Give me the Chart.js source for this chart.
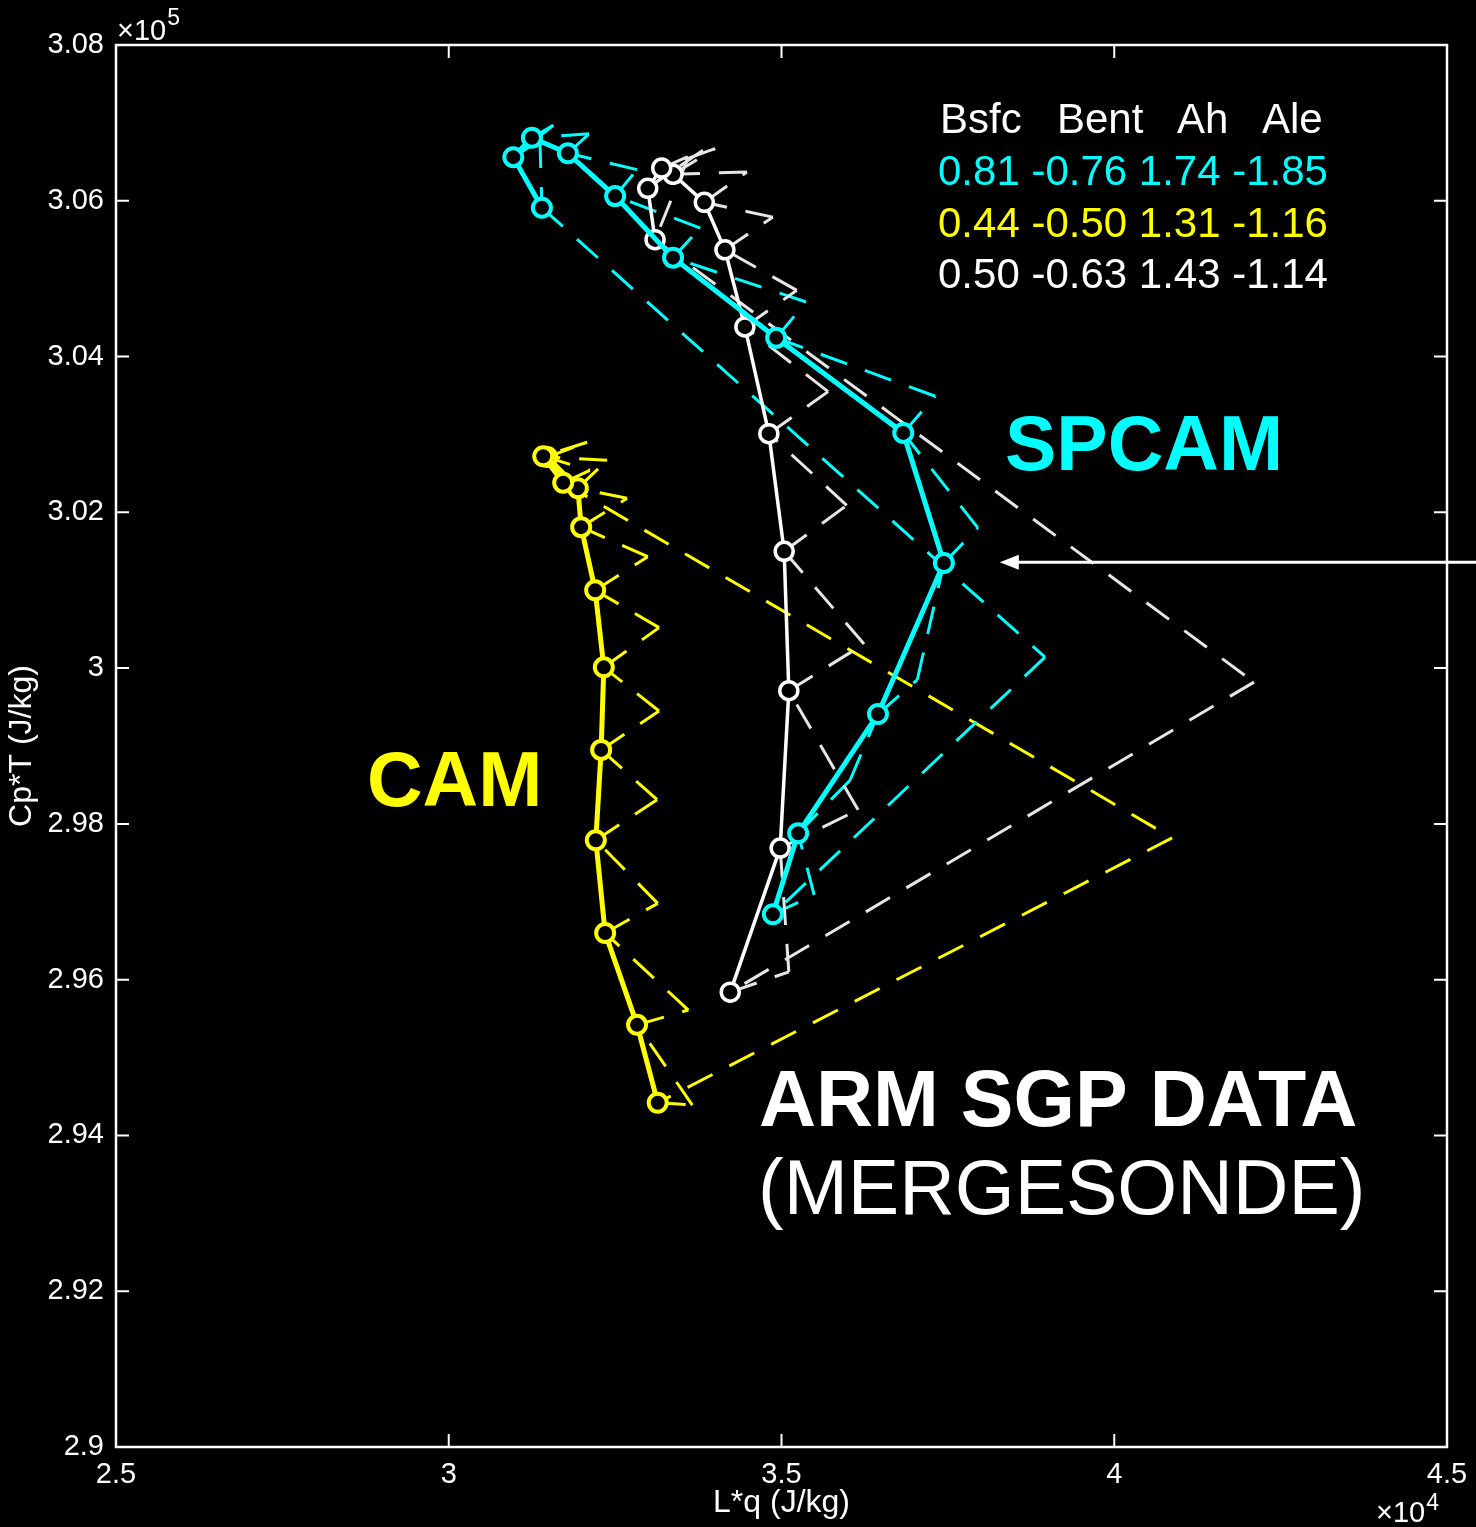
<!DOCTYPE html>
<html>
<head>
<meta charset="utf-8">
<script src="https://cdn.jsdelivr.net/npm/chart.js@4.4.1/dist/chart.umd.min.js"></script>
<style>
  html, body { margin: 0; padding: 0; background: #000; }
  canvas { display: block; }
</style>
</head>
<body>
<canvas id="chart" width="1476" height="1527"></canvas>
<script>
// Profiles of moist energy L*q (x) against Cp*T (y), both in J/kg.
// Solid traces: level-by-level points. Offsets: the turning points of the
// dashed zig-zag drawn beside each trace. Apex: far corner of the dashed loop.

// CAM (yellow)
const camQ = [33140, 32830, 32350, 32210, 32290, 32330, 32200, 31990, 31940, 31480, 31420, 31720];
const camT = [294420, 295420, 296600, 297790, 298950, 300010, 301000, 301810, 302310, 302710, 302720, 302380];
const camOffQ = [33660, 33600, 33140, 33130, 33160, 33160, 32990, 32680, 32380, 32080, 32120];
const camOffT = [294390, 295610, 296980, 298310, 299450, 300520, 301430, 302180, 302670, 302900, 302540];
const camApex = [40870, 297820];

// SPCAM (cyan)
const spQ = [34870, 35250, 36450, 37440, 36830, 34920, 33370, 32500, 31790, 31250, 30970, 31400];
const spT = [296840, 297880, 299410, 301350, 303020, 304240, 305270, 306060, 306610, 306810, 306560, 305910];
const spOffQ = [35490, 36030, 37040, 37950, 37310, 35370, 33780, 32830, 32110, 31570, 31370];
const spOffT = [297090, 298560, 299850, 301800, 303490, 304700, 305650, 306400, 306860, 306970, 306780];
const spApex = [38960, 300140];

// ARM SGP mergesonde (white)
const armQ = [34230, 34980, 35110, 35040, 34810, 34450, 34150, 33840, 33370, 33200, 32990, 33100];
const armT = [295840, 297690, 299710, 301500, 303010, 304380, 305370, 305980, 306340, 306420, 306160, 305500];
const armOffQ = [35110, 36150, 36240, 35980, 35700, 35230, 34870, 34480, 34000, 33820, 33600];
const armOffT = [296100, 298180, 300310, 302090, 303550, 304850, 305790, 306370, 306670, 306650, 306560];
const armApex = [42100, 299820];

// Axis ticks
const xTicks = [25000, 30000, 35000, 40000, 45000];
const xTickLabels = ['2.5', '3', '3.5', '4', '4.5'];
const yTicks = [290000, 292000, 294000, 296000, 298000, 300000, 302000, 304000, 306000, 308000];
const yTickLabels = ['2.9', '2.92', '2.94', '2.96', '2.98', '3', '3.02', '3.04', '3.06', '3.08'];

// Coefficient table
const tableHead = ['Bsfc', 'Bent', 'Ah', 'Ale'];
const tableRows = [
  ['0.81', '-0.76', '1.74', '-1.85'],
  ['0.44', '-0.50', '1.31', '-1.16'],
  ['0.50', '-0.63', '1.43', '-1.14']
];

// Arrow tip (J/kg) pointing at the SPCAM bulge
const arrowTip = [38280, 301360];

const CYAN = '#00ffff', YELLOW = '#ffff00', WHITE = '#ffffff', GREYW = '#e6e6e6';

function pts(qs, ts) {
  return qs.map((q, i) => ({ x: q, y: ts[i] }));
}
// level 0 -> offset 0 -> level 1 -> ... -> last level -> apex -> level 0
function loopPath(qs, ts, offQ, offT, apex) {
  const p = [];
  for (let i = 0; i < qs.length; i++) {
    p.push({ x: qs[i], y: ts[i] });
    if (i < offQ.length) p.push({ x: offQ[i], y: offT[i] });
  }
  p.push({ x: apex[0], y: apex[1] });
  p.push({ x: qs[0], y: ts[0] });
  return p;
}

// every straight piece restarts its own dash pattern
const perSegment = { borderDashOffset: c => (c.p0DataIndex % 2) * 0.01 };

function dashed(data, color, order) {
  return {
    data, showLine: true, borderColor: color, borderWidth: 3,
    borderDash: [28, 19], pointRadius: 0, order, segment: perSegment,
    borderCapStyle: 'butt', tension: 0
  };
}
function solid(data, color, width, markerWidth, order) {
  return {
    data, showLine: true, borderColor: color, borderWidth: width,
    pointRadius: 9, pointBorderWidth: markerWidth, pointBorderColor: color,
    pointBackgroundColor: '#000', pointStyle: 'circle', order, tension: 0
  };
}

const FONT = '"Liberation Sans", Arial, Helvetica, sans-serif';

function power(c, x, baseY, exp, size, supSize, rise) {
  c.font = size + 'px ' + FONT;
  c.fillText('\u00d710', x, baseY);
  const w = c.measureText('\u00d710').width;
  c.font = supSize + 'px ' + FONT;
  c.fillText(exp, x + w + 1, baseY - rise);
}

const decor = {
  id: 'decor',
  beforeDraw(chart) {
    const c = chart.ctx;
    c.save();
    c.fillStyle = '#000';
    c.fillRect(0, 0, chart.width, chart.height);
    c.restore();
  },
  afterDraw(chart) {
    const c = chart.ctx;
    const a = chart.chartArea;
    const xs = chart.scales.x, ys = chart.scales.y;
    c.save();
    // frame
    c.strokeStyle = WHITE;
    c.lineWidth = 2.5;
    c.strokeRect(a.left, a.top, a.right - a.left, a.bottom - a.top);
    // inward ticks on all four sides
    c.lineWidth = 2;
    const tl = 13;
    c.beginPath();
    xTicks.slice(1, -1).forEach(v => {
      const px = xs.getPixelForValue(v);
      c.moveTo(px, a.bottom); c.lineTo(px, a.bottom - tl);
      c.moveTo(px, a.top); c.lineTo(px, a.top + tl);
    });
    yTicks.slice(1, -1).forEach(v => {
      const py = ys.getPixelForValue(v);
      c.moveTo(a.left, py); c.lineTo(a.left + tl, py);
      c.moveTo(a.right, py); c.lineTo(a.right - tl, py);
    });
    c.stroke();

    // scale exponents
    c.fillStyle = WHITE;
    c.textBaseline = 'alphabetic';
    c.textAlign = 'left';
    power(c, a.left + 1, a.top - 5, '5', 29, 23, 15);
    power(c, a.right - 71, chart.height - 5, '4', 29, 23, 12);

    // coefficient table
    c.font = '42px ' + FONT;
    const headX = [940, 1057, 1177, 1262];
    tableHead.forEach((h, i) => c.fillText(h, headX[i], 133));
    const rowColors = [CYAN, YELLOW, WHITE];
    const rowY = [185, 237, 288];
    tableRows.forEach((r, i) => {
      c.fillStyle = rowColors[i];
      c.fillText(r.join(' '), 938, rowY[i]);
    });

    // series names
    c.font = 'bold 77px ' + FONT;
    c.fillStyle = CYAN;
    c.fillText('SPCAM', 1005, 470);
    c.fillStyle = YELLOW;
    c.fillText('CAM', 367, 806);
    c.fillStyle = WHITE;
    c.font = 'bold 79px ' + FONT;
    c.fillText('ARM SGP DATA', 759, 1126);
    c.font = '77px ' + FONT;
    c.fillText('(MERGESONDE)', 758, 1214);

    // arrow from the right edge
    const tx = xs.getPixelForValue(arrowTip[0]);
    const ty = ys.getPixelForValue(arrowTip[1]);
    c.strokeStyle = WHITE;
    c.lineWidth = 3;
    c.beginPath();
    c.moveTo(chart.width, ty);
    c.lineTo(tx + 14, ty);
    c.stroke();
    c.beginPath();
    c.moveTo(tx, ty);
    c.lineTo(tx + 19, ty - 7.5);
    c.lineTo(tx + 19, ty + 7.5);
    c.closePath();
    c.fill();
    c.restore();
  }
};

new Chart(document.getElementById('chart'), {
  type: 'scatter',
  data: {
    datasets: [
      dashed(loopPath(camQ, camT, camOffQ, camOffT, camApex), YELLOW, 5),
      dashed(loopPath(spQ, spT, spOffQ, spOffT, spApex), CYAN, 4),
      dashed(loopPath(armQ, armT, armOffQ, armOffT, armApex), GREYW, 3),
      solid(pts(camQ, camT), YELLOW, 5, 4, 2),
      solid(pts(armQ, armT), WHITE, 3.5, 3.5, 1),
      solid(pts(spQ, spT), CYAN, 5, 4, 0)
    ]
  },
  options: {
    responsive: false,
    devicePixelRatio: 1,
    animation: false,
    events: [],
    layout: { padding: { top: 45, right: 29, left: 0, bottom: 0 } },
    plugins: { legend: { display: false }, tooltip: { enabled: false } },
    scales: {
      x: {
        type: 'linear', min: 25000, max: 45000,
        afterBuildTicks: s => { s.ticks = xTicks.map(v => ({ value: v })); },
        afterFit: s => { s.height = 80; s.paddingLeft = 0; s.paddingRight = 0; },
        grid: { display: false, drawTicks: false },
        border: { display: false },
        ticks: {
          color: WHITE, font: { family: FONT, size: 29 }, padding: 11,
          maxRotation: 0, autoSkip: false,
          callback: (v, i) => xTickLabels[i]
        },
        title: {
          display: true, text: 'L*q (J/kg)', color: WHITE,
          font: { family: FONT, size: 32 }, padding: { top: 0, bottom: 5 }
        }
      },
      y: {
        type: 'linear', min: 290000, max: 308000,
        afterBuildTicks: s => { s.ticks = yTicks.map(v => ({ value: v })); },
        afterFit: s => { s.width = 116; s.paddingTop = 0; s.paddingBottom = 0; },
        grid: { display: false, drawTicks: false },
        border: { display: false },
        ticks: {
          color: WHITE, font: { family: FONT, size: 29 }, padding: 12,
          autoSkip: false,
          callback: (v, i) => yTickLabels[i]
        },
        title: {
          display: true, text: 'Cp*T (J/kg)', color: WHITE,
          font: { family: FONT, size: 32 }, padding: { top: 3, bottom: 0 }
        }
      }
    }
  },
  plugins: [decor]
});
</script>
</body>
</html>
